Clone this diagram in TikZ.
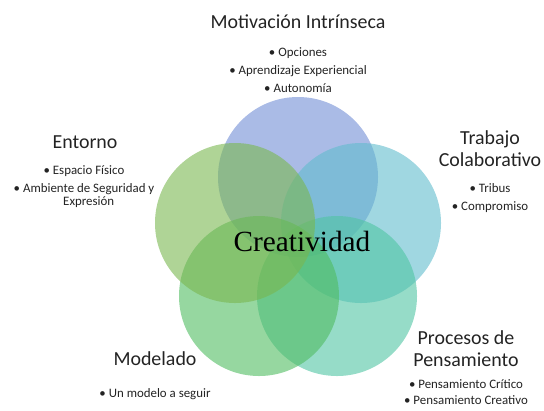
\documentclass[tikz,border=0pt]{standalone}
\usepackage{fontspec}
\setmainfont{Carlito}
\newfontfamily\serifcre{Liberation Serif}
\usepackage{xcolor}
\usetikzlibrary{positioning}
\definecolor{petalblue}{RGB}{113,142,213}
\definecolor{petalleaf}{RGB}{122,183,80}
\definecolor{petalteal}{RGB}{97,188,205}
\definecolor{petalgreen}{RGB}{80,188,97}
\definecolor{petalsea}{RGB}{80,197,163}
\definecolor{inktext}{RGB}{35,35,35}

\begin{document}
\begin{tikzpicture}[
  x=0.03cm, y=-0.03cm,
  petal/.style={circle, minimum size=4.8cm, inner sep=0pt, fill opacity=0.6, text opacity=1},
  heading/.style={font=\fontsize{17}{18.8}\selectfont, text=inktext, align=center, inner sep=0pt},
  items/.style={font=\fontsize{11}{15.3}\selectfont, text=inktext, align=center, inner sep=0pt},
]
\useasboundingbox (0,0) rectangle (544,410);
% petals
\node[petal, fill=petalblue] (pmotiv) at (298,177) {};
\node[petal, fill=petalteal] (ptrabajo) at (361,223) {};
\node[petal, fill=petalsea] (pprocesos) at (337,296) {};
\node[petal, fill=petalgreen] (pmodelado) at (259,296) {};
\node[petal, fill=petalleaf] (pentorno) at (235,223) {};
\node[font=\serifcre\fontsize{25}{30}\selectfont, text=black] (core) at (302,241) {Creatividad};
% labels
\node[heading] (hmotiv) at (298,22) {Motivación Intrínseca};
\node[items] (lmotiv) at (298,70) {\textbullet{} Opciones\\ \textbullet{} Aprendizaje Experiencial\\ \textbullet{} Autonomía};
\node[heading] (hentorno) at (85,142) {Entorno};
\node[items] (lentorno) at (84,187) {\textbullet{} Espacio Físico\\ \textbullet{} Ambiente de Seguridad y\\[-4.3pt] \hspace{8pt}Expresión};
\node[heading] (htrabajo) at (490,149) {Trabajo\\ Colaborativo};
\node[items] (ltrabajo) at (490,198) {\textbullet{} Tribus\\ \textbullet{} Compromiso};
\node[heading] (hmodelado) at (155,359) {Modelado};
\node[items] (lmodelado) at (155,394) {\textbullet{} Un modelo a seguir};
\node[heading] (hprocesos) at (466,349) {Procesos de\\ Pensamiento};
\node[items, font=\fontsize{11}{13.5}\selectfont] (lprocesos) at (466,392) {\textbullet{} Pensamiento Crítico\\ \textbullet{} Pensamiento Creativo};
\end{tikzpicture}
\end{document}
